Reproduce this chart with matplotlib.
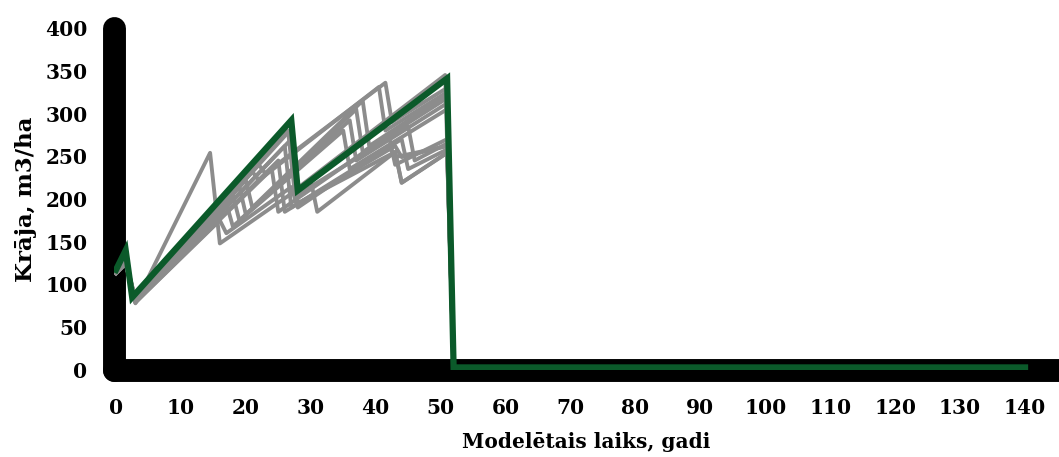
import matplotlib.pyplot as plt

# --- data ---
# highlighted run (green)
main_years = [0, 1.5, 2.5, 27, 28, 51, 52, 140]
main_vol = [117, 140, 85, 292, 210, 341, 3, 3]

# other simulation runs (grey)
run01_years = [0, 1.5, 3, 14.5, 16, 30, 31, 43, 44, 51, 52]
run01_vol = [113, 124, 78, 254, 148, 222, 185, 255, 219, 254, 0]
run02_years = [0, 1.5, 3, 16, 17, 27, 28, 42, 43, 51, 52]
run02_vol = [113, 125, 79, 175, 160, 214, 190, 262, 249, 262, 0]
run03_years = [0, 1.5, 3, 17, 18, 35, 36, 51, 52]
run03_vol = [113, 126, 80, 195, 168, 280, 235, 305, 0]
run04_years = [0, 1.5, 3, 18, 19, 36, 37, 51, 52]
run04_vol = [113, 126, 80, 205, 175, 292, 245, 312, 0]
run05_years = [0, 1.5, 3, 19, 20, 37, 38, 51, 52]
run05_vol = [114, 127, 81, 215, 182, 305, 255, 318, 0]
run06_years = [0, 1.5, 3, 20, 21, 38, 39, 51, 52]
run06_vol = [114, 127, 82, 222, 190, 315, 262, 322, 0]
run07_years = [0, 1.5, 3, 21, 22, 40.5, 41.5, 51, 52]
run07_vol = [114, 128, 82, 232, 222, 331, 280, 325, 0]
run08_years = [0, 1.5, 3, 22, 23, 41.5, 42.5, 51, 52]
run08_vol = [115, 128, 83, 240, 230, 336, 290, 330, 0]
run09_years = [0, 1.5, 3, 24, 25, 42, 43, 51, 52]
run09_vol = [113, 125, 80, 235, 185, 275, 240, 270, 0]
run10_years = [0, 1.5, 3, 25, 26, 44, 45, 51, 52]
run10_vol = [113, 125, 79, 245, 185, 270, 235, 258, 0]
run11_years = [0, 1.5, 3, 26, 27, 43, 44, 51, 52]
run11_vol = [113, 126, 79, 262, 190, 262, 249, 262, 0]
run12_years = [0, 1.5, 3, 27, 28, 43, 44, 51, 52]
run12_vol = [114, 126, 80, 270, 195, 255, 219, 254, 0]
run13_years = [0, 1.5, 3, 27, 28, 45, 46, 51, 52]
run13_vol = [114, 127, 81, 282, 205, 285, 245, 265, 0]
run14_years = [0, 1.5, 3, 26.5, 27.5, 50.7, 52]
run14_vol = [114, 127, 82, 280, 210, 345, 0]

grey_runs = [
    (run01_years, run01_vol), (run02_years, run02_vol), (run03_years, run03_vol),
    (run04_years, run04_vol), (run05_years, run05_vol), (run06_years, run06_vol),
    (run07_years, run07_vol), (run08_years, run08_vol), (run09_years, run09_vol),
    (run10_years, run10_vol), (run11_years, run11_vol), (run12_years, run12_vol),
    (run13_years, run13_vol), (run14_years, run14_vol),
]

x_ticks = list(range(0, 141, 10))
y_ticks = list(range(0, 401, 50))

W, H = 1059, 457
fig = plt.figure(figsize=(W / 100, H / 100), dpi=100)
ax = fig.add_axes([114 / W, (H - 370) / H, 1 - 114 / W, (370 - 28) / H])

for yrs, vol in grey_runs:
    ax.plot(yrs, vol, color='#8c8c8c', lw=2.8, solid_joinstyle='round', zorder=2)
ax.plot(main_years, main_vol, color='#0b5a2a', lw=4.5, solid_joinstyle='miter', zorder=3)

ax.set_xlim(-0.3, (W - 116) / 6.493)
ax.set_ylim(0, 400)
ax.set_xticks(x_ticks)
ax.set_yticks(y_ticks)

font = dict(family='DejaVu Serif', weight='bold', size=14.5)
ax.set_xticklabels([str(t) for t in x_ticks], **font)
ax.set_yticklabels([str(t) for t in y_ticks], **font)
ax.tick_params(length=0)
ax.tick_params(axis='x', pad=20)
ax.tick_params(axis='y', pad=19)

for side in ('top', 'right'):
    ax.spines[side].set_visible(False)
for side in ('left', 'bottom'):
    sp = ax.spines[side]
    sp.set_linewidth(16.5)
    sp.set_capstyle('round')
    sp.set_color('black')
    sp.set_zorder(1)
ax.spines['left'].set_bounds(0, 400)

ax.set_xlabel('Modelētais laiks, gadi', family='DejaVu Serif', weight='bold',
              size=14.5, labelpad=10)
ax.set_ylabel('Krāja, m3/ha', family='DejaVu Serif', weight='bold', size=16.5,
              labelpad=6)

fig.savefig('out.png', dpi=100)
